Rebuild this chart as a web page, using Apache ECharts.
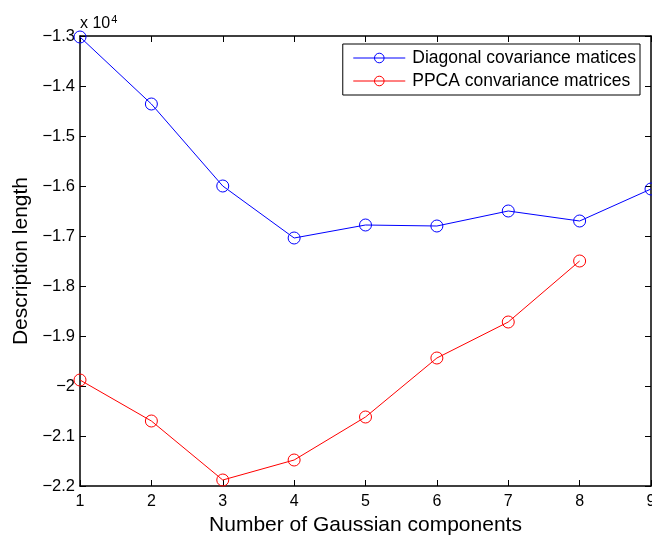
<!DOCTYPE html>
<html>
<head>
<meta charset="utf-8">
<script src="https://cdn.jsdelivr.net/npm/echarts@6/dist/echarts.min.js"></script>
<style>html,body{margin:0;padding:0;background:#fff}#c{width:652px;height:536px}</style>
</head>
<body>
<div id="c"></div>
<script>
var components = [1, 2, 3, 4, 5, 6, 7, 8, 9];
var diagonal = [-13020, -14360, -16000, -17040, -16780, -16800, -16500, -16700, -16060];
var ppca = [-19880, -20700, -21880, -21480, -20620, -19440, -18720, -17500];
var yTicks = [-2.2, -2.1, -2.0, -1.9, -1.8, -1.7, -1.6, -1.5, -1.4, -1.3];
var xTicks = [1, 2, 3, 4, 5, 6, 7, 8, 9];

var FONT = '"Liberation Sans", Arial, Helvetica, sans-serif';
var chart = echarts.init(document.getElementById('c'));
function pairs(arr){ return arr.map(function(v,i){ return [components[i], v]; }); }
function fmtY(v){
  var s = (v/10000).toFixed(1);
  if (s === '-2.0') s = '-2';
  return s.replace('-', '\u2212');
}
var axisLine = {show:true, lineStyle:{color:'#000', width:1.5}};
var tick = {show:true, inside:true, length:6, lineStyle:{color:'#000', width:1}};
chart.setOption({
  animation:false,
  backgroundColor:'#fff',
  textStyle:{fontFamily:FONT},
  grid:{left:80, right:1, top:36, bottom:50, containLabel:false, outerBoundsMode:'none'},
  xAxis:[{
    type:'value', min:1, max:9, interval:1,
    name:'Number of Gaussian components', nameLocation:'middle', nameGap:25,
    nameTextStyle:{fontSize:21, color:'#000', fontFamily:FONT},
    axisLine:axisLine, axisTick:tick,
    axisLabel:{fontSize:16, color:'#000', margin:8, fontFamily:FONT},
    splitLine:{show:false}
  },{
    type:'value', min:1, max:9, interval:1, position:'top',
    axisLine:axisLine, axisTick:tick,
    axisLabel:{show:false}, splitLine:{show:false}
  }],
  yAxis:[{
    type:'value', min:-22000, max:-13000, interval:1000,
    name:'Description length', nameLocation:'middle', nameGap:48, nameRotate:90,
    nameTextStyle:{fontSize:21, color:'#000', fontFamily:FONT},
    axisLine:axisLine, axisTick:tick,
    axisLabel:{fontSize:16.5, color:'#000', margin:5, formatter:fmtY, fontFamily:FONT},
    splitLine:{show:false}
  },{
    type:'value', min:-22000, max:-13000, interval:1000, position:'right',
    axisLine:axisLine, axisTick:tick,
    axisLabel:{show:false}, splitLine:{show:false}
  }],
  legend:{
    right:12, top:44, orient:'vertical',
    backgroundColor:'#fff', borderColor:'#000', borderWidth:1, borderRadius:0,
    padding:[5,4,5,10], itemGap:5, itemWidth:52, itemHeight:12,
    itemStyle:{borderWidth:1},
    lineStyle:{width:1},
    textStyle:{fontSize:17.5, color:'#000', fontFamily:FONT, padding:[0,0,0,2]},
    data:[{name:'Diagonal covariance matices'},{name:'PPCA convariance matrices'}]
  },
  graphic:[{
    type:'text', left:80, top:14,
    style:{text:'x 10{s|4}', rich:{s:{fontSize:11, verticalAlign:'top', padding:[0,0,9,1], fontFamily:FONT}}, fontSize:16, fill:'#000', fontFamily:FONT}
  }],
  series:[{
    name:'Diagonal covariance matices', type:'line', data:pairs(diagonal),
    symbol:'circle', symbolSize:12, color:'#0000ff',
    lineStyle:{color:'#0000ff', width:1},
    itemStyle:{color:'rgba(0,0,0,0)', borderColor:'#0000ff', borderWidth:1}
  },{
    name:'PPCA convariance matrices', type:'line', data:pairs(ppca),
    symbol:'circle', symbolSize:12, color:'#ff0000',
    lineStyle:{color:'#ff0000', width:1},
    itemStyle:{color:'rgba(0,0,0,0)', borderColor:'#ff0000', borderWidth:1}
  }]
});
</script>
</body>
</html>
